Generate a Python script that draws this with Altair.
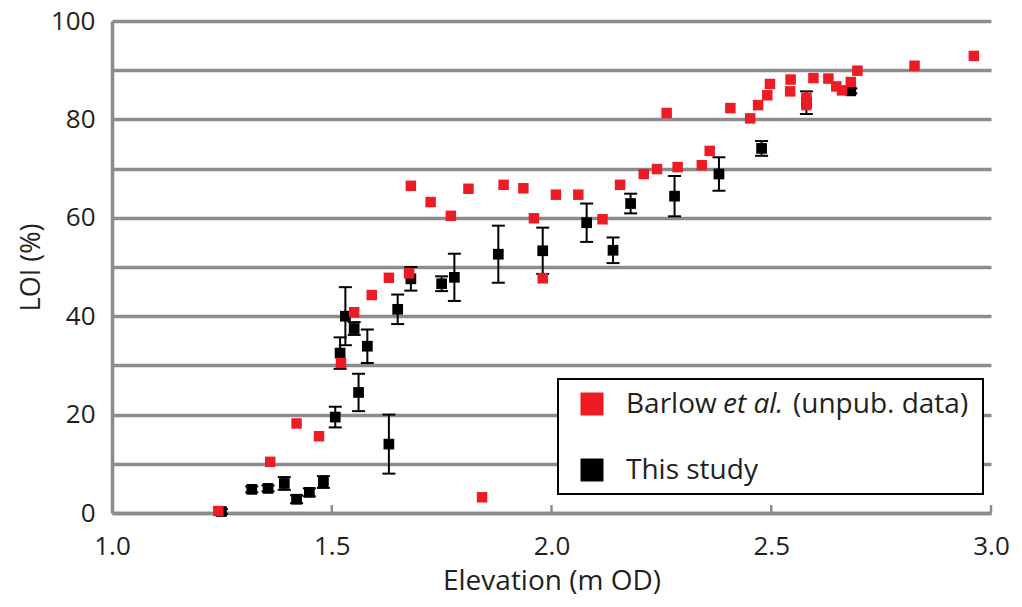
import altair as alt
import pandas as pd

# ---- data ----
black_x = [1.249, 1.318, 1.355, 1.392, 1.420, 1.449, 1.481, 1.508, 1.519, 1.531,
           1.551, 1.561, 1.581, 1.630, 1.650, 1.680, 1.750, 1.779, 1.879, 1.980,
           2.080, 2.140, 2.180, 2.280, 2.381, 2.478, 2.580, 2.681]
black_y = [0.3, 4.8, 5.0, 6.0, 2.8, 4.2, 6.3, 19.5, 32.5, 40.0,
           37.5, 24.5, 33.9, 14.0, 41.4, 47.6, 46.6, 47.9, 52.6, 53.3,
           59.0, 53.4, 62.9, 64.4, 68.9, 74.1, 83.4, 85.8]
black_err = [0.5, 0.6, 0.6, 1.3, 0.8, 0.8, 1.2, 2.1, 3.2, 5.9,
             1.3, 3.8, 3.4, 6.0, 3.0, 2.4, 1.5, 4.8, 5.8, 4.7,
             3.9, 2.6, 2.0, 4.1, 3.4, 1.5, 2.3, 0.5]

red_x = [1.242, 1.360, 1.420, 1.471, 1.521, 1.551, 1.591, 1.630, 1.676, 1.680,
         1.725, 1.771, 1.811, 1.842, 1.891, 1.936, 1.960, 1.980, 2.010, 2.061,
         2.116, 2.156, 2.210, 2.240, 2.262, 2.287, 2.342, 2.360, 2.407, 2.452,
         2.470, 2.491, 2.497, 2.543, 2.544, 2.580, 2.580, 2.596, 2.630, 2.648,
         2.661, 2.681, 2.696, 2.826, 2.961]
red_y = [0.4, 10.4, 18.2, 15.6, 30.5, 40.8, 44.3, 47.8, 48.7, 66.5,
         63.2, 60.4, 65.9, 3.2, 66.7, 66.0, 59.9, 47.7, 64.7, 64.7,
         59.7, 66.7, 68.9, 69.9, 81.3, 70.3, 70.7, 73.6, 82.3, 80.2,
         82.9, 84.9, 87.2, 85.7, 88.1, 84.4, 82.9, 88.4, 88.3, 86.7,
         85.9, 87.6, 89.9, 90.9, 92.9]

x_ticks = [1.0, 1.5, 2.0, 2.5, 3.0]
y_grid = [0, 10, 20, 30, 40, 50, 60, 70, 80, 90, 100]

legend_red = "Barlow"
legend_italic = "et al."
legend_rest = "(unpub. data)"
legend_black = "This study"

# ---- styling ----
W, H = 879, 492
FONT = "Open Sans"
GREY = "#8c8c8c"
TXT = "#231f20"
RED = "#ed1c24"

df_b = pd.DataFrame({
    "x": black_x,
    "y": black_y,
    "lo": [y - e for y, e in zip(black_y, black_err)],
    "hi": [y + e for y, e in zip(black_y, black_err)],
})
df_r = pd.DataFrame({"x": red_x, "y": red_y})
df_t = pd.DataFrame({"x": x_ticks[1:]})
one = pd.DataFrame({"a": [0]})

xs = alt.Scale(domain=[1, 3], nice=False, zero=False)
ys = alt.Scale(domain=[0, 100], nice=False)

x_axis = alt.Axis(values=x_ticks, format=".1f", grid=False, ticks=False, tickSize=0,
                  domainColor=GREY, domainWidth=3.5, labelFont=FONT, labelFontSize=26,
                  labelColor=TXT, labelPadding=20, labelFlush=False, labelOverlap=False,
                  title="Elevation (m OD)", titleFont=FONT, titleFontSize=28,
                  titleFontWeight="normal", titleColor=TXT, titlePadding=8)
y_axis = alt.Axis(values=y_grid, labelExpr="datum.value % 20 === 0 ? datum.label : ''",
                  grid=True, gridColor=GREY, gridWidth=3.5, ticks=False, tickSize=0,
                  domainColor=GREY, domainWidth=3.5, labelFont=FONT, labelFontSize=26,
                  labelColor=TXT, labelPadding=17, labelOverlap=False,
                  title="LOI (%)", titleFont=FONT, titleFontSize=27,
                  titleFontWeight="normal", titleColor=TXT, titlePadding=5)

err_rule = alt.Chart(df_b).mark_rule(color="black", strokeWidth=2).encode(
    x=alt.X("x:Q", scale=xs, axis=x_axis),
    y=alt.Y("lo:Q", scale=ys, axis=y_axis),
    y2="hi:Q",
)
cap_lo = alt.Chart(df_b).mark_tick(orient="horizontal", color="black", size=13,
                                   thickness=2, opacity=1).encode(
    x=alt.X("x:Q", scale=xs), y=alt.Y("lo:Q", scale=ys))
cap_hi = alt.Chart(df_b).mark_tick(orient="horizontal", color="black", size=13,
                                   thickness=2, opacity=1).encode(
    x=alt.X("x:Q", scale=xs), y=alt.Y("hi:Q", scale=ys))
black_pts = alt.Chart(df_b).mark_square(size=115, color="black", opacity=1).encode(
    x=alt.X("x:Q", scale=xs), y=alt.Y("y:Q", scale=ys))
red_pts = alt.Chart(df_r).mark_square(size=110, color=RED, opacity=1).encode(
    x=alt.X("x:Q", scale=xs), y=alt.Y("y:Q", scale=ys))

axis_ticks = alt.Chart(df_t).mark_rule(color=GREY, strokeWidth=2.5).encode(
    x=alt.X("x:Q", scale=xs), y=alt.datum(0, scale=ys), y2=alt.datum(1.6))

# ---- legend (custom, to allow the italic 'et al.') ----
leg_box = alt.Chart(one).mark_rect(fill="white", stroke="black", strokeWidth=2).encode(
    x=alt.value(446), x2=alt.value(871), y=alt.value(358), y2=alt.value(473))
leg_red = alt.Chart(one).mark_square(size=529, color=RED, opacity=1).encode(
    x=alt.value(480), y=alt.value(383))
leg_blk = alt.Chart(one).mark_square(size=529, color="black", opacity=1).encode(
    x=alt.value(480), y=alt.value(449))


def txt(s, x, y, style="normal"):
    return alt.Chart(one).mark_text(align="left", baseline="alphabetic", font=FONT,
                                    fontSize=28, color=TXT, fontStyle=style).encode(
        x=alt.value(x), y=alt.value(y), text=alt.value(s))


chart = alt.layer(
    err_rule, cap_lo, cap_hi, black_pts, red_pts, axis_ticks,
    leg_box, leg_red, leg_blk,
    txt(legend_red, 514, 392), txt(legend_italic, 611, 392, "italic"),
    txt(legend_rest, 681, 392), txt(legend_black, 514, 458),
).properties(
    width=W, height=H,
    padding={"left": 104, "top": 13, "right": 20, "bottom": 86},
    autosize=alt.AutoSizeParams(type="none"),
    background="white",
).configure_view(stroke=None)

chart.save("out.html", embed_options={"renderer": "svg", "actions": False})
